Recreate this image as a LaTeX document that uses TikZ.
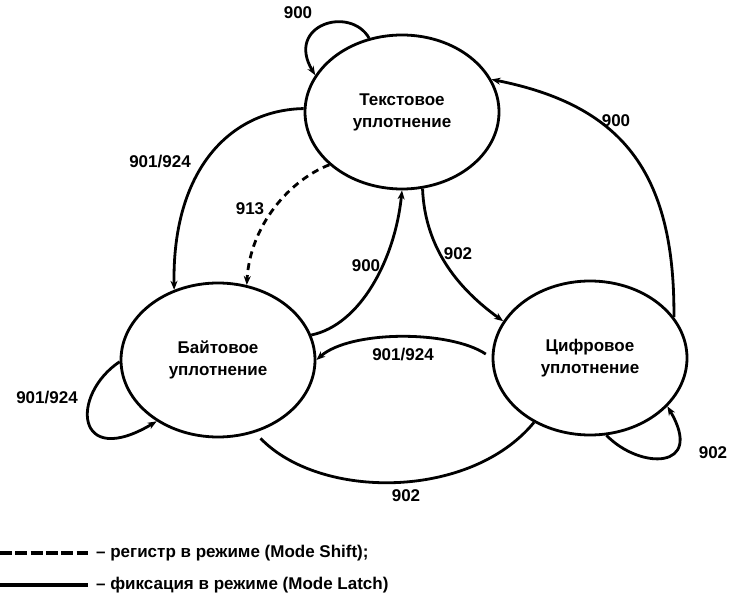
\documentclass[tikz,border=0pt]{standalone}
\usepackage{fontspec}
\setmainfont{Liberation Sans}
\usetikzlibrary{shapes.geometric,arrows.meta}
\begin{document}
\begin{tikzpicture}[x=1pt,y=-1pt,
  state/.style={ellipse,draw,line width=2.8pt,minimum width=194pt,minimum height=154pt,inner sep=0pt,align=center,font=\fontsize{17}{22}\selectfont\bfseries},
  lbl/.style={font=\fontsize{17}{20}\selectfont\bfseries,inner sep=0pt},
  legtext/.style={font=\fontsize{17}{20}\selectfont\bfseries,inner sep=0pt,anchor=west},
  conn/.style={line width=2.8pt,-{Stealth[length=9pt,width=7pt]}},
  plain/.style={line width=2.8pt},
 ]
\useasboundingbox (0,0) rectangle (729,593);
\fill[white] (0,0) rectangle (729,593);

\node[state] (T) at (402,112) {Текстовое\\уплотнение};
\node[state] (B) at (218,360) {Байтовое\\уплотнение};
\node[state] (C) at (590,358) {Цифровое\\уплотнение};

% loop on T
\draw[conn] (T.114) .. controls (350,5) and (285,25) .. (T.157);
\node[lbl] (l1) at (298,13) {900};

% T -> B 901/924
\draw[conn] (T.178) .. controls (230,110) and (172,170) .. (B.122);
\node[lbl] (l2) at (160,162) {901/924};

% T -> B 913 dashed
\draw[conn,dash pattern=on 7pt off 5pt] (T.216) .. controls (290,180) and (250,225) .. (B.69);
\node[lbl] (l3) at (250,209) {913};

% B -> T 900
\draw[conn] (B.15) .. controls (360,325) and (395,260) .. (T.270);
\node[lbl] (l4) at (366,266) {900};

% T -> C 902
\draw[conn] (T.285) .. controls (425,250) and (460,290) .. (C.157);
\node[lbl] (l5) at (458,254) {902};

% C -> T 900
\draw[conn] (C.26) .. controls (675,170) and (620,105) .. (T.20);
\node[lbl] (l6) at (616,121) {900};

% C -> B 901/924
\draw[conn,shorten <=7pt] (C.180) .. controls (450,330) and (350,330) .. (B.0);
\node[lbl] (l7) at (403,355) {901/924};

% loop on C
\draw[conn] (C.282) .. controls (640,470) and (705,470) .. (C.328);
\node[lbl] (l8) at (713,453) {902};

% loop on B
\draw[conn] (B.181) .. controls (70,395) and (75,470) .. (B.225);
\node[lbl] (l9) at (47,398) {901/924};

% B - C 902 bottom
\draw[plain,shorten <=8pt] (B.297) .. controls (320,500) and (470,500) .. (C.229);
\node[lbl] (l10) at (406,496) {902};

% legend
\coordinate (d1) at (0,553);
\coordinate (d2) at (88,553);
\coordinate (s1) at (0,585);
\coordinate (s2) at (88,585);
\draw[line width=3.4pt,dash pattern=on 12pt off 3.3pt] (d1) -- (d2);
\draw[line width=3.4pt] (s1) -- (s2);
\node[legtext] (t1) at (96,553) {– регистр в режиме (Mode Shift);};
\node[legtext] (t2) at (96,585) {– фиксация в режиме (Mode Latch)};
\end{tikzpicture}
\end{document}
